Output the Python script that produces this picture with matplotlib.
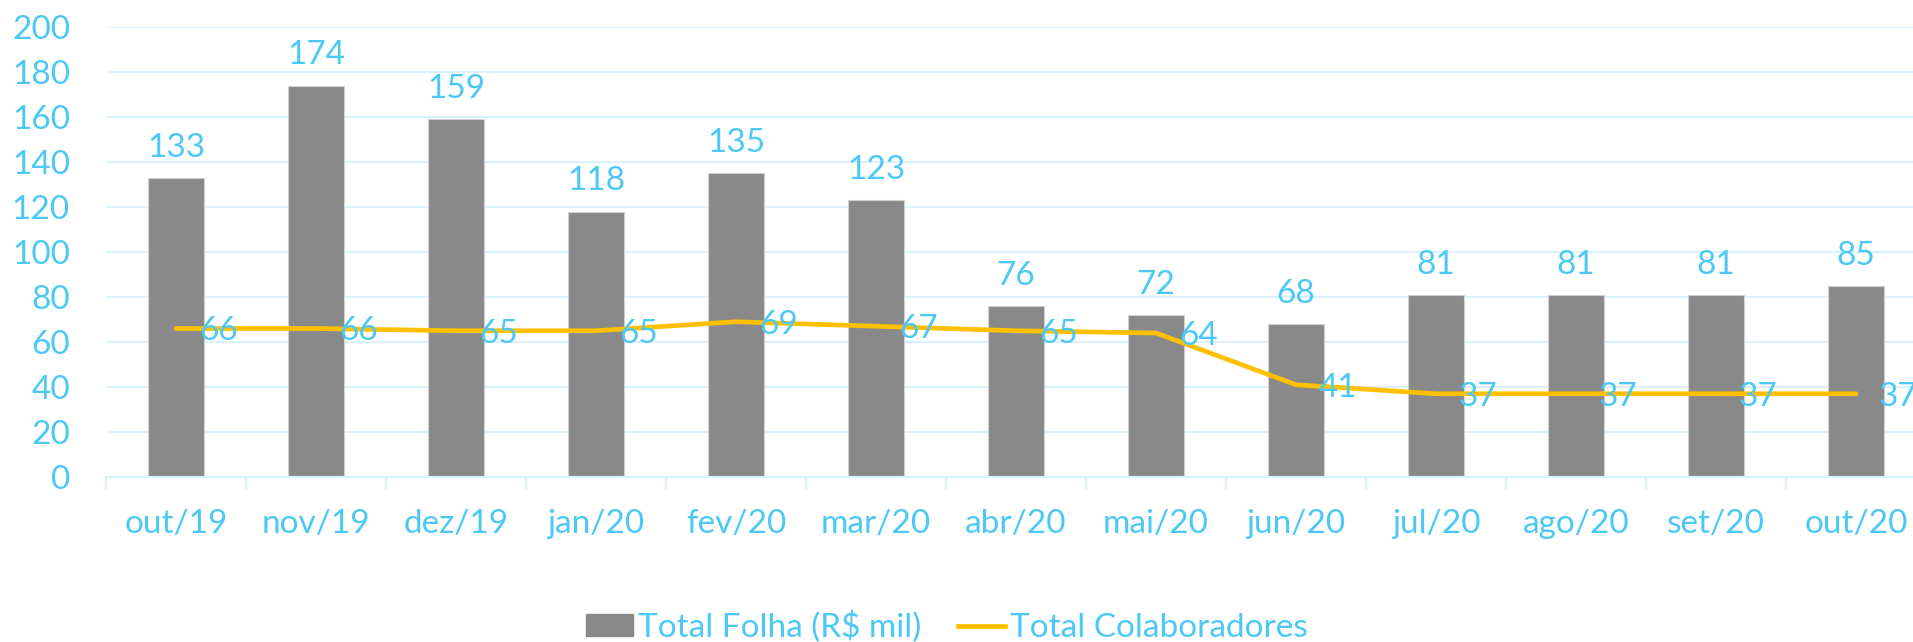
import matplotlib
matplotlib.use("Agg")
import matplotlib.pyplot as plt
from matplotlib.patches import Patch
from matplotlib.lines import Line2D
import numpy as np

categories = ["out/19", "nov/19", "dez/19", "jan/20", "fev/20", "mar/20", "abr/20",
              "mai/20", "jun/20", "jul/20", "ago/20", "set/20", "out/20"]
folha = [133, 174, 159, 118, 135, 123, 76, 72, 68, 81, 81, 81, 85]
colaboradores = [66, 66, 65, 65, 69, 67, 65, 64, 41, 37, 37, 37, 37]
yticks = [0, 20, 40, 60, 80, 100, 120, 140, 160, 180, 200]

TXT = "#4CC8F6"
BAR = "#898989"
LINE = "#FFC000"
GRID = "#DDF1FA"
FS = 24

plt.rcParams['font.family'] = ['Lato', 'DejaVu Sans']

W, H = 1913, 642
fig = plt.figure(figsize=(W / 100, H / 100), dpi=100)
left, right, top, bottom = 106, 1926, 27, 477
ax = fig.add_axes([left / W, 1 - bottom / H, (right - left) / W, (bottom - top) / H])

x = np.arange(len(categories))
ax.bar(x, folha, width=0.4, color=BAR, edgecolor="#D0D0D0", linewidth=0.8, zorder=2)
ax.plot(x, colaboradores, color=LINE, linewidth=3.4, solid_capstyle='round', zorder=3)

for xi, v in zip(x, folha):
    ax.annotate(str(v), (xi, v), xytext=(0, 21), textcoords='offset pixels',
                ha='center', va='baseline', color=TXT, fontsize=FS, zorder=4)
for xi, v in zip(x, colaboradores):
    ax.annotate(str(v), (xi, v), xytext=(23, 0), textcoords='offset pixels',
                ha='left', va='center_baseline', color=TXT, fontsize=FS, zorder=4)

ax.set_xlim(-0.5, len(categories) - 0.5)
ax.set_ylim(0, 200)
ax.set_yticks(yticks)
ax.set_yticklabels([str(t) for t in yticks])
ax.set_xticks(x)
ax.set_xticklabels(categories)
ax.set_xticks(np.arange(-0.5, len(categories), 1.0), minor=True)

ax.grid(axis='y', color=GRID, linewidth=1.5, zorder=0)
ax.set_axisbelow(True)
for s in ['top', 'right', 'left']:
    ax.spines[s].set_visible(False)
ax.spines['bottom'].set_color(GRID)
ax.spines['bottom'].set_linewidth(1.5)

ax.tick_params(axis='y', length=0, pad=26, labelsize=FS, labelcolor=TXT)
ax.tick_params(axis='x', which='major', length=0, pad=23, labelsize=FS, labelcolor=TXT)
ax.tick_params(axis='x', which='minor', length=8.5, width=1.5, color=GRID)

handles = [Patch(facecolor=BAR, edgecolor=BAR), Line2D([0], [0], color=LINE, linewidth=3.4)]
labels = ["Total Folha (R$ mil)", "Total Colaboradores"]
leg = fig.legend(handles, labels, loc='center', bbox_to_anchor=(947 / W, 1 - 627 / H),
                 ncol=2, frameon=False, fontsize=FS, handlelength=1.4, handleheight=0.64,
                 handletextpad=0.16, columnspacing=1.1, labelcolor=TXT,
                 borderpad=0, borderaxespad=0)

fig.savefig("out.png", dpi=100)
